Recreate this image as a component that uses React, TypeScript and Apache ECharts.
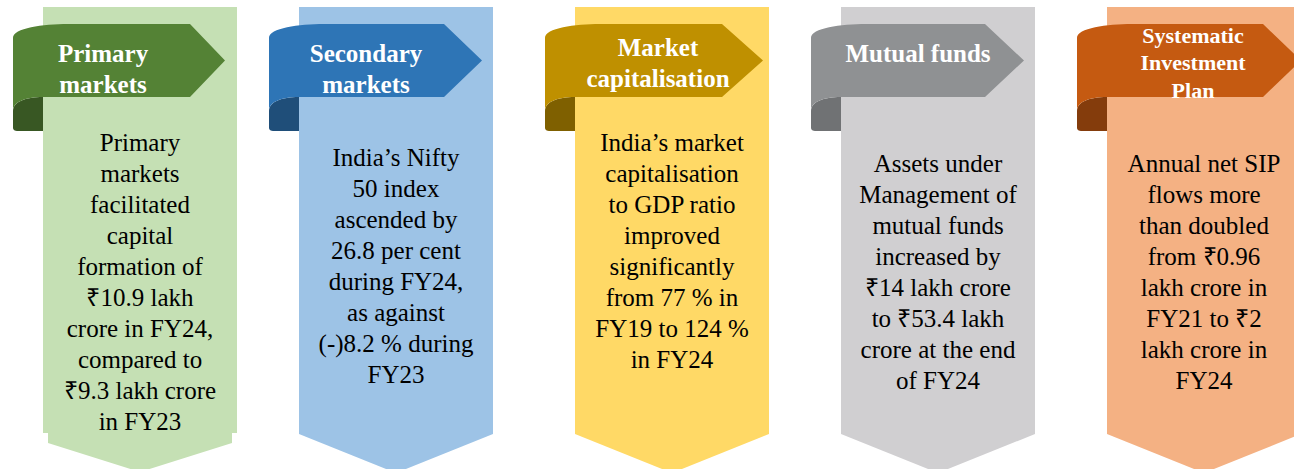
import React, { useEffect, useRef } from "react";
import * as echarts from "echarts";

// ---- content ----
const titles: string[][] = [
  ["Primary", "markets"],
  ["Secondary", "markets"],
  ["Market", "capitalisation"],
  ["Mutual funds"],
  ["Systematic", "Investment", "Plan"],
];

const bodyPrimary = ["Primary", "markets", "facilitated", "capital", "formation of", "₹10.9 lakh", "crore in FY24,", "compared to", "₹9.3 lakh crore", "in FY23"];
const bodySecondary = ["India’s Nifty", "50 index", "ascended by", "26.8 per cent", "during FY24,", "as against", "(-)8.2 % during", "FY23"];
const bodyMarketCap = ["India’s market", "capitalisation", "to GDP ratio", "improved", "significantly", "from 77 % in", "FY19 to 124 %", "in FY24"];
const bodyMutual = ["Assets under", "Management of", "mutual funds", "increased by", "₹14 lakh crore", "to ₹53.4 lakh", "crore at the end", "of FY24"];
const bodySIP = ["Annual net SIP", "flows more", "than doubled", "from ₹0.96", "lakh crore in", "FY21 to ₹2", "lakh crore in", "FY24"];
const bodies = [bodyPrimary, bodySecondary, bodyMarketCap, bodyMutual, bodySIP];

// ---- styles ----
const panelColors = ["#C5E0B4", "#9DC3E6", "#FFD966", "#D0CFD1", "#F4B183"];
const ribbonColors = ["#548235", "#2E75B6", "#BF9000", "#8F9193", "#C55A11"];
const foldColors = ["#385723", "#1F4E79", "#7F6000", "#707274", "#843C0C"];

// ---- layout ----
const panelX = [43, 299, 575, 841, 1107];
const panelW = 194;
const ribbonVertex = [147, 145, 147, 144, 156];
const ribbonTip = [182, 183, 188, 183, 194];
const titleDX = [60, 67, 83, 77, 86];
const titleY = [68.5, 68.5, 62.5, 53, 62.5];
const titleSize = [25, 25, 25, 25, 22];
const titleLH = [31, 31, 31, 31, 27.5];
const bodyCY = [281.5, 265.5, 250.5, 271.5, 271.5];
const bodyLH = 31;

let registered = false;
function registerShapes() {
  if (registered) return;
  registered = true;
  for (let i = 0; i < 5; i++) {
    const v = ribbonVertex[i];
    const t = ribbonTip[i];
    const body = `M -30 38 C -30 28 0 24 25 24 L ${v} 24 L ${t} 60.5 L ${v} 97 L 0 97 C -18 97 -30 102 -30 111 Z`;
    echarts.graphic.registerShape("ribbonBody" + i, echarts.graphic.extendPath(body, {}) as any);
  }
  const fold = "M 0 97 C -18 97 -30 102 -30 111 L -30 128 C -30 130 -28 131 -26 131 L 0 131 Z";
  echarts.graphic.registerShape("ribbonFold", echarts.graphic.extendPath(fold, {}) as any);
}

export default function App() {
  const ref = useRef<HTMLDivElement>(null);
  useEffect(() => {
    document.body.style.margin = "0";
    registerShapes();
    const chart = echarts.init(ref.current!, undefined, { renderer: "svg" });
    const elements: any[] = [];

    const lines = (arr: string[], cx: number, cy: number, lh: number, size: number, bold: boolean, fill: string) => {
      const n = arr.length;
      arr.forEach((t, j) => {
        elements.push({
          type: "text",
          x: cx,
          y: cy + (j - (n - 1) / 2) * lh,
          z: 4,
          style: {
            text: t,
            fill,
            font: (bold ? "bold " : "") + size + "px 'Liberation Serif'",
            align: "center",
            verticalAlign: "middle",
          },
        });
      });
    };

    for (let i = 0; i < 5; i++) {
      const x0 = panelX[i];
      const pts =
        i === 0
          ? [[0, 7], [panelW, 7], [panelW, 433], [panelW - 5, 433], [panelW - 5, 443], [panelW / 2, 472], [5, 443], [5, 433], [0, 433]]
          : [[0, 7], [panelW, 7], [panelW, 434], [panelW / 2, 473], [0, 434]];
      elements.push({
        type: "polygon",
        x: x0,
        y: 0,
        shape: { points: pts },
        style: { fill: panelColors[i] },
        z: 1,
      });
      elements.push({
        type: "ribbonFold",
        x: x0,
        y: 0,
        style: { fill: foldColors[i] },
        z: 2,
      });
      elements.push({
        type: "ribbonBody" + i,
        x: x0,
        y: 0,
        style: { fill: ribbonColors[i] },
        z: 3,
      });
      lines(titles[i], x0 + titleDX[i], titleY[i], titleLH[i], titleSize[i], true, "#FFFFFF");
      lines(bodies[i], x0 + panelW / 2, bodyCY[i], bodyLH, 25, false, "#000000");
    }

    chart.setOption({
      animation: false,
      backgroundColor: "#FFFFFF",
      graphic: { elements },
    });
    return () => chart.dispose();
  }, []);

  return (
    <div
      ref={ref}
      style={{ position: "absolute", left: 0, top: 0, width: 1294, height: 469 }}
    />
  );
}
